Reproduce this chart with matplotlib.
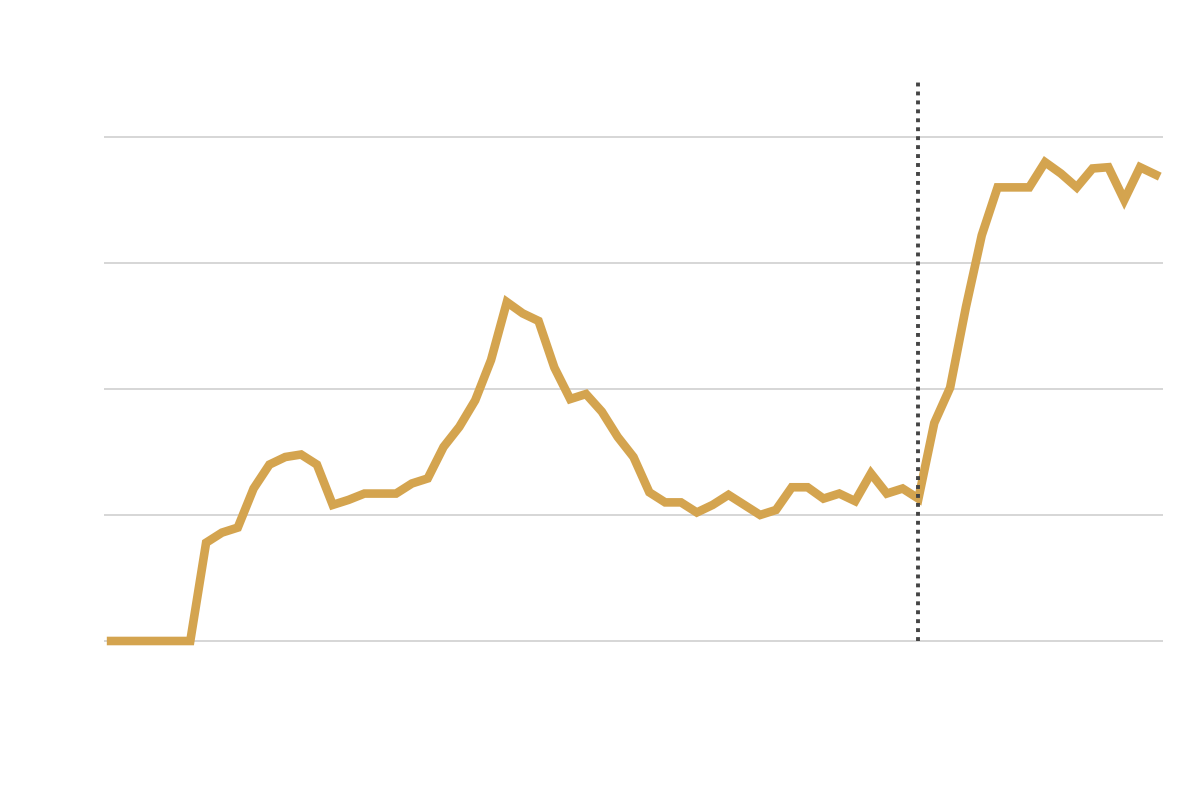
import numpy as np
import matplotlib
matplotlib.use("Agg")
import matplotlib.pyplot as plt

# values (grid lines at 0, 10, 20, 30, 40)
values = [0, 0, 0, 0, 0,
          0, 7.8, 8.6, 9.0, 12.1, 14.0, 14.6, 14.8, 14.0, 10.8,
          11.2, 11.7, 11.7, 11.7, 12.5, 12.9, 15.4, 17.0, 19.1, 22.3,
          26.9, 26.0, 25.4, 21.7, 19.2, 19.6, 18.2, 16.2, 14.6, 11.8,
          11.0, 11.0, 10.2, 10.8, 11.6, 10.8, 10.0, 10.4, 12.2, 12.2,
          11.3, 11.7, 11.1, 13.3, 11.7, 12.1, 11.3, 17.3, 20.1, 26.5,
          32.2, 36.0, 36.0, 36.0, 38.0, 37.1, 36.0, 37.5, 37.6, 35.0,
          37.6, 37.0]
marker_index = 51
grid_levels = [0, 10, 20, 30, 40]

x = np.arange(len(values))

fig = plt.figure(figsize=(12, 8), dpi=100)
# 12.6 px per unit: 0 sits at y=641 px, 40 at y=137 px
ax = fig.add_axes([104 / 1200, 83.4 / 800, (1163 - 104) / 1200, 642.0 / 800])

ax.plot(x, values, color="#d4a44f", lw=6.2, solid_joinstyle="miter",
        solid_capstyle="projecting", zorder=3)
ax.vlines(marker_index, 0, 44.5, colors="#444444", lw=2.8,
          linestyles=(0, (1, 1.3)), zorder=4)

ax.set_xlim(-0.45, 66.45)
ax.set_ylim(-6, 44.95)
ax.set_yticks(grid_levels)
ax.set_xticks([])
ax.grid(axis="y", color="#cccccc", lw=1.1)
ax.tick_params(left=False, labelleft=False)
for s in ax.spines.values():
    s.set_visible(False)

fig.savefig("out.png", dpi=100)
